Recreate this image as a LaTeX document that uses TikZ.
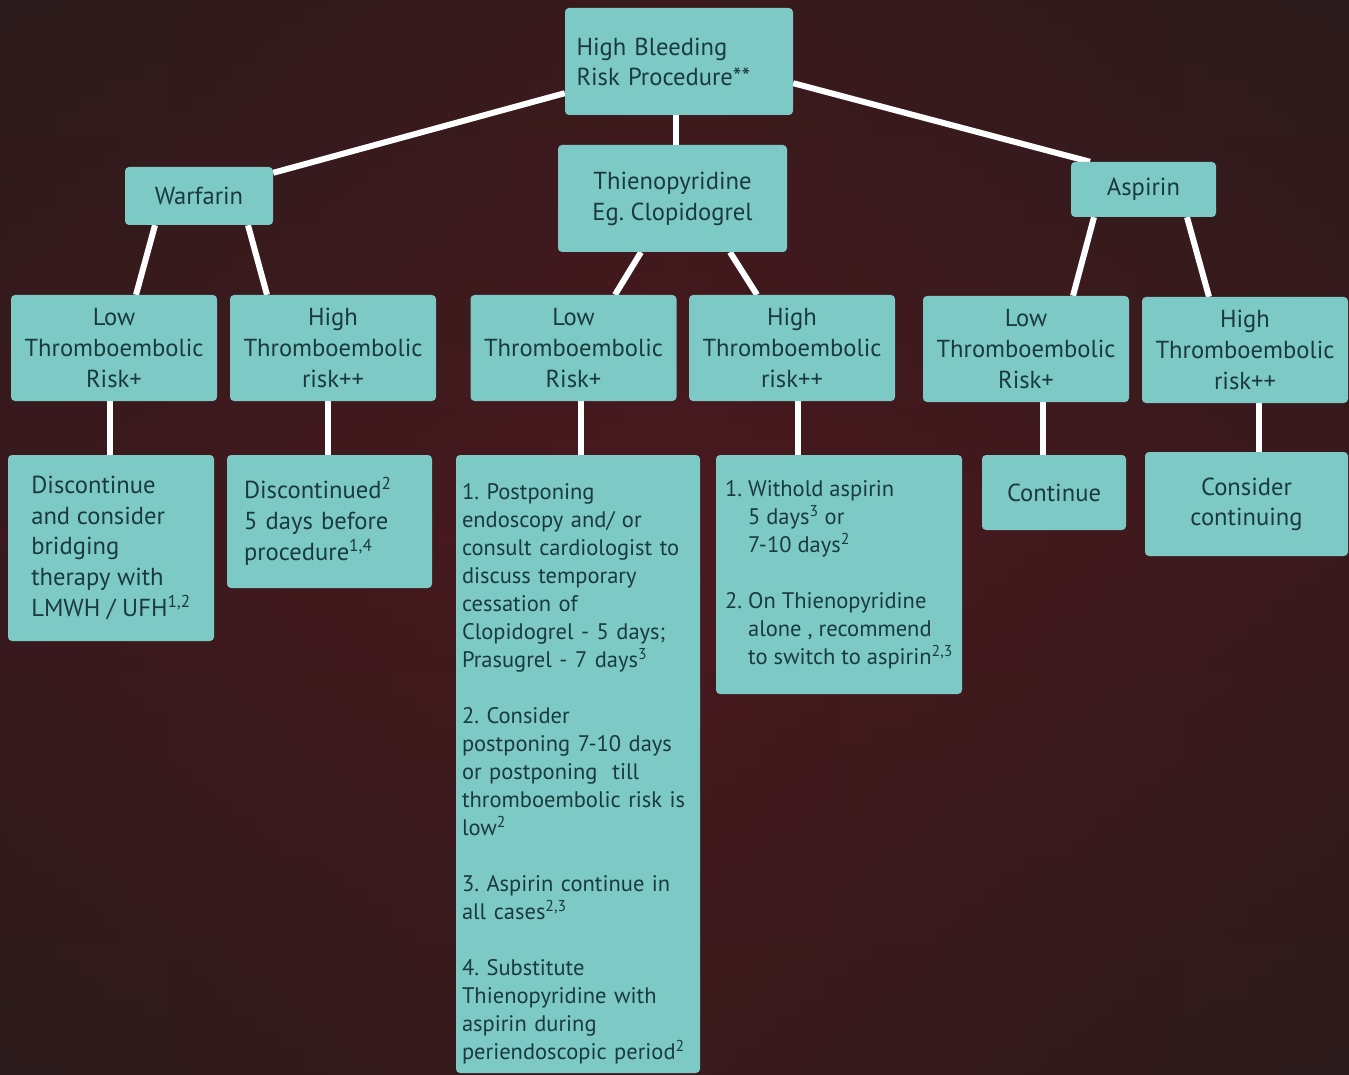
\documentclass[tikz,border=0pt]{standalone}
\usepackage{fontspec}
\setmainfont{PT Sans}
\frenchspacing
\usetikzlibrary{backgrounds}

\definecolor{boxfill}{HTML}{7CC9C5}
\definecolor{boxtext}{HTML}{1B3A3B}
\definecolor{bgdark}{HTML}{2C1B1C}
\definecolor{bgred}{HTML}{4A191E}
\definecolor{fold}{HTML}{8A2A30}

\tikzset{
  box/.style = {fill=boxfill, rounded corners=4pt, text=boxtext,
    font=\fontsize{24.6}{30}\selectfont, inner sep=0pt, align=center},
  edge/.style = {draw=white, line width=6pt}
}

\begin{document}
\begin{tikzpicture}[x=1pt, y=1pt]
  \useasboundingbox (0,0) rectangle (1349,-1075);
  \begin{scope}[on background layer]
    \shade [left color=bgdark, right color=bgdark, middle color=bgred]
      (0,0) rectangle (1349,-1075);
    \shade [top color=bgdark, bottom color=bgdark, middle color=bgred, opacity=0.5]
      (0,0) rectangle (1349,-1075);
    % curtain folds
    \draw [fold, line width=3pt, opacity=0.35] (950,0) .. controls (900,200) and (760,420) .. (640,700);
    \draw [fold, line width=14pt, opacity=0.12] (1349,280) .. controls (1250,420) and (1210,560) .. (1200,760);
    \draw [fold, line width=10pt, opacity=0.10] (300,0) .. controls (320,300) and (280,600) .. (220,1075);
    \draw [fold, line width=10pt, opacity=0.10] (1010,600) .. controls (1100,800) and (1150,950) .. (1180,1075);
  \end{scope}

  % top level
  \node [box, minimum width=228, minimum height=107, text width=205, align=left]
    (bleed) at (679, -61.5) {High Bleeding\\Risk Procedure**};

  % drug boxes
  \node [box, minimum width=148, minimum height=58] (warfarin) at (199, -196) {Warfarin};
  \node [box, minimum width=229, minimum height=107, font=\fontsize{24.6}{31}\selectfont]
    (thieno) at (672.5, -198.5) {Thienopyridine\\Eg. Clopidogrel};
  \node [box, minimum width=145, minimum height=55] (aspirin) at (1143.5, -189.5) {Aspirin};

  % risk boxes
  \tikzset{risk/.style = {box, minimum width=206, minimum height=106,
    font=\fontsize{24.6}{31}\selectfont}}
  \node [risk] (wlow) at (114, -348) {Low\\Thromboembolic\\Risk+};
  \node [risk] (whigh) at (333, -348) {High\\Thromboembolic\\risk++};
  \node [risk] (tlow) at (573.5, -348) {Low\\Thromboembolic\\Risk+};
  \node [risk] (thigh) at (792, -348) {High\\Thromboembolic\\risk++};
  \node [risk] (alow) at (1026, -349) {Low\\Thromboembolic\\Risk+};
  \node [risk] (ahigh) at (1245, -350) {High\\Thromboembolic\\risk++};

  % advice boxes
  \node [box, minimum width=206, minimum height=186, align=left,
    font=\fontsize{24.6}{30.7}\selectfont] (wlowout) at (111, -548)
    {Discontinue\\and consider\\bridging\\therapy with\\LMWH / UFH\textsuperscript{1,2}};
  \node [box, minimum width=205, minimum height=133, text width=171, align=left,
    font=\fontsize{24.6}{31}\selectfont] (whighout) at (329.5, -521.5)
    {Discontinued\textsuperscript{2}\\5 days before\\procedure\textsuperscript{1,4}};
  \node [box, minimum width=244, minimum height=618, text width=232, align=left,
    font=\fontsize{22.5}{28}\selectfont] (tlowout) at (578, -764)
    {\rule{0pt}{35pt}1. Postponing\\endoscopy and/ or\\consult cardiologist to\\discuss temporary\\cessation of\\
     Clopidogrel - 5 days;\\Prasugrel - 7 days\textsuperscript{3}\\[28pt]
     2. Consider\\postponing 7-10 days\\or postponing~ till\\thromboembolic risk is\\low\textsuperscript{2}\\[28pt]
     3. Aspirin continue in\\all cases\textsuperscript{2,3}\\[28pt]
     4. Substitute\\Thienopyridine with\\aspirin during\\periendoscopic period\textsuperscript{2}};
  \node [box, minimum width=246, minimum height=239, align=left,
    font=\fontsize{22.5}{28}\selectfont] (thighout) at (839, -574.5)
    {1. Withold aspirin\\\phantom{1. }5 days\textsuperscript{3} or\\\phantom{1. }7-10 days\textsuperscript{2}\\[28pt]
     2. On Thienopyridine\\\phantom{2. }alone , recommend\\\phantom{2. }to switch to aspirin\textsuperscript{2,3}};
  \node [box, minimum width=144, minimum height=75] (alowout) at (1054, -492.5) {Continue};
  \node [box, minimum width=203, minimum height=104] (ahighout) at (1246.5, -504)
    {Consider\\continuing};

  % connectors
  \begin{scope}[on background layer]
    \draw [edge] ([yshift=22]bleed.south west) -- ([yshift=-6]warfarin.north east);
    \draw [edge] ([xshift=-3]bleed.south) -- ([xshift=3.5]thieno.north);
    \draw [edge] ([yshift=32]bleed.south east) -- ([xshift=-53.5]aspirin.north);
    \draw [edge] ([xshift=-44]warfarin.south) -- ([xshift=22]wlow.north);
    \draw [edge] ([xshift=49]warfarin.south) -- ([xshift=-66]whigh.north);
    \draw [edge] ([xshift=-31.5]thieno.south) -- ([xshift=41.5]tlow.north);
    \draw [edge] ([xshift=57.5]thieno.south) -- ([xshift=-35]thigh.north);
    \draw [edge] ([xshift=-49.5]aspirin.south) -- ([xshift=47]alow.north);
    \draw [edge] ([xshift=43.5]aspirin.south) -- ([xshift=-36]ahigh.north);
    \foreach \from/\to/\dx in {wlow/wlowout/-4, whigh/whighout/-5, tlow/tlowout/7.5,
        thigh/thighout/6, alow/alowout/17, ahigh/ahighout/14}
      \draw [edge] ([xshift=\dx]\from.south) -- ([xshift=\dx]\from.south |- \to.north);
  \end{scope}
\end{tikzpicture}
\end{document}
